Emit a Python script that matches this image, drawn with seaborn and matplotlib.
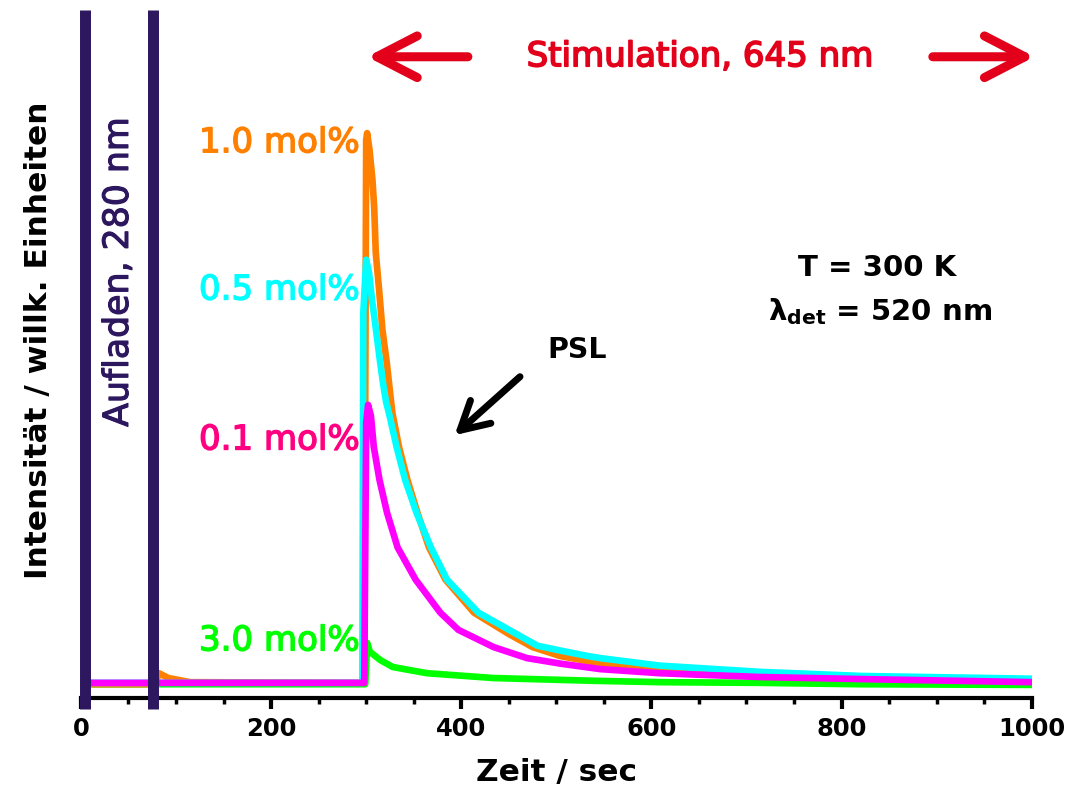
import pandas as pd
import seaborn as sns
import matplotlib.pyplot as plt
import matplotlib.patheffects as pe
from matplotlib.ticker import MultipleLocator

# ---- data: time in sec, intensity in arb. units ----
t_10 = [0, 78, 82, 92, 115, 298, 300, 301, 303.5, 306.6, 308.4, 310.1, 313.6,
        317.1, 321.7, 325.2, 327.6, 334.5, 343.4, 354, 366, 383.4, 413.4, 450,
        475, 504, 546, 609, 714, 820, 1000]
i_10 = [2.0, 2.0, 3.6, 2.9, 2.3, 2.2, 81.1, 82.1, 79.7, 75.3, 71.4, 64.7, 59.3,
        53.5, 48.7, 44.3, 41.4, 36.5, 31.7, 26.9, 21.9, 17.2, 12.4, 9.3,
        7.4, 6.1, 5.0, 4.2, 3.5, 3.0, 2.5]

t_05 = [0, 296, 297, 300, 303, 306, 310, 314, 318, 321, 324, 332, 341, 353,
        368, 385, 418, 480, 504, 533, 546, 609, 714, 820, 1000]
i_05 = [2.2, 2.2, 56.0, 63.7, 61.8, 58.0, 53.9, 49.5, 45.5, 43.0, 41.4, 36.5,
        31.7, 26.9, 21.9, 17.2, 12.4, 7.6, 6.9, 6.1, 5.8, 4.7, 3.8, 3.2, 2.8]

t_01 = [0, 298, 300, 302, 305, 308, 314, 322, 333, 352, 378, 397, 434, 469,
        504, 546, 609, 714, 820, 1000]
i_01 = [2.2, 2.2, 40.0, 42.6, 41.0, 36.5, 31.7, 26.9, 21.9, 17.2, 12.4, 9.9,
        7.4, 5.8, 5.0, 4.2, 3.6, 3.05, 2.75, 2.3]

t_30 = [0, 299, 301, 304, 315, 328, 364, 434, 539, 609, 714, 820, 1000]
i_30 = [2.0, 2.0, 8.0, 6.7, 5.5, 4.5, 3.6, 2.9, 2.5, 2.3, 2.2, 2.0, 1.9]

labels = ["1.0 mol%", "0.5 mol%", "0.1 mol%", "3.0 mol%"]
label_y = [80.7, 59.3, 37.5, 8.3]
line_colors = ["#ff8000", "#00ffff", "#ff00ff", "#00ff00"]
label_colors = ["#ff8000", "#00ffff", "#ff0080", "#00ff00"]
draw_order = ["3.0 mol%", "1.0 mol%", "0.5 mol%", "0.1 mol%"]
charge_times = [4, 76]
xticks = [0, 200, 400, 600, 800, 1000]

red = "#e2001a"
purple = "#2d1860"

frames = []
for lab, t, i in zip(labels, [t_10, t_05, t_01, t_30], [i_10, i_05, i_01, i_30]):
    frames.append(pd.DataFrame({"Zeit": t, "I": i, "Probe": lab}))
df = pd.concat(frames, ignore_index=True)

sns.set_style("ticks")
plt.rcParams['font.family'] = ['DejaVu Sans']
plt.rcParams['text.color'] = 'black'
plt.rcParams['axes.labelcolor'] = 'black'

fig = plt.figure(figsize=(10.68, 7.92), dpi=100)
ax = fig.add_axes([0.0758, 0.1187, 0.8902, 0.8687])

sns.lineplot(data=df, x="Zeit", y="I", hue="Probe", hue_order=draw_order,
             palette=dict(zip(labels, line_colors)), estimator=None, sort=False,
             lw=4.8, legend=False, ax=ax)

# UV charging marks
for tc in charge_times:
    ax.axvline(tc, ymin=-0.016, ymax=1, color=purple, lw=7.9, clip_on=False,
               zorder=5, solid_capstyle='butt')

ax.set_xlim(0, 1000)
ax.set_ylim(0, 100)
sns.despine(ax=ax, left=True)
ax.spines['bottom'].set_linewidth(3)
ax.spines['bottom'].set_color('black')

ax.set_xticks(xticks)
ax.xaxis.set_minor_locator(MultipleLocator(50))
ax.tick_params(axis='x', which='major', length=8, width=3, labelsize=17.5, pad=6,
               colors='black')
ax.tick_params(axis='x', which='minor', length=4, width=2.5, colors='black')
ax.tick_params(axis='y', left=False, labelleft=False)
for lbl in ax.get_xticklabels():
    lbl.set_fontweight('bold')

ax.set_xlabel("Zeit / sec", fontsize=22.5, fontweight='bold', va='center')
ax.xaxis.set_label_coords(0.5, -0.1076)
ax.set_ylabel("Intensität / willk. Einheiten", fontsize=22.5, fontweight='bold', va='center')
ax.yaxis.set_label_coords(-0.045, 0.52)

# concentration labels (slightly heavier than regular)
for lab, y, c in zip(labels, label_y, label_colors):
    ax.text(293, y, lab, color=c, fontsize=24.5, ha='right', va='center',
            path_effects=[pe.withStroke(linewidth=1.0, foreground=c)])

ax.text(38.9, 61.9, "Aufladen, 280 nm", color=purple, fontsize=25,
        rotation=90, ha='center', va='center',
        path_effects=[pe.withStroke(linewidth=0.8, foreground=purple)])

# stimulation banner
ax.text(651, 93.2, "Stimulation, 645 nm", color=red, fontsize=24.5, ha='center',
        va='center', path_effects=[pe.withStroke(linewidth=1.2, foreground=red)])
red_arrow = dict(arrowstyle='->,head_length=1.45,head_width=0.75', lw=6.5, color=red,
                 mutation_scale=20, shrinkA=0, shrinkB=0)
ax.annotate('', xy=(301, 93.2), xytext=(407, 93.2), arrowprops=red_arrow,
            annotation_clip=False)
ax.annotate('', xy=(1003, 93.2), xytext=(896, 93.2), arrowprops=red_arrow,
            annotation_clip=False)

# PSL
ax.text(521.7, 50.6, "PSL", fontsize=20.5, fontweight='bold', ha='center', va='center')
ax.annotate('', xy=(393, 38.2), xytext=(461.8, 46.7),
            arrowprops=dict(arrowstyle='->,head_length=1.0,head_width=0.55', lw=5,
                            color='black', mutation_scale=20, shrinkA=0, shrinkB=0))

ax.text(837, 62.5, "T = 300 K", fontsize=21, fontweight='bold', ha='center', va='center')
ax.text(840.5, 56.1, r"$\mathbf{\lambda_{det}}$ = 520 nm", fontsize=21, fontweight='bold',
        ha='center', va='center')

fig.savefig("out.png", dpi=100)
